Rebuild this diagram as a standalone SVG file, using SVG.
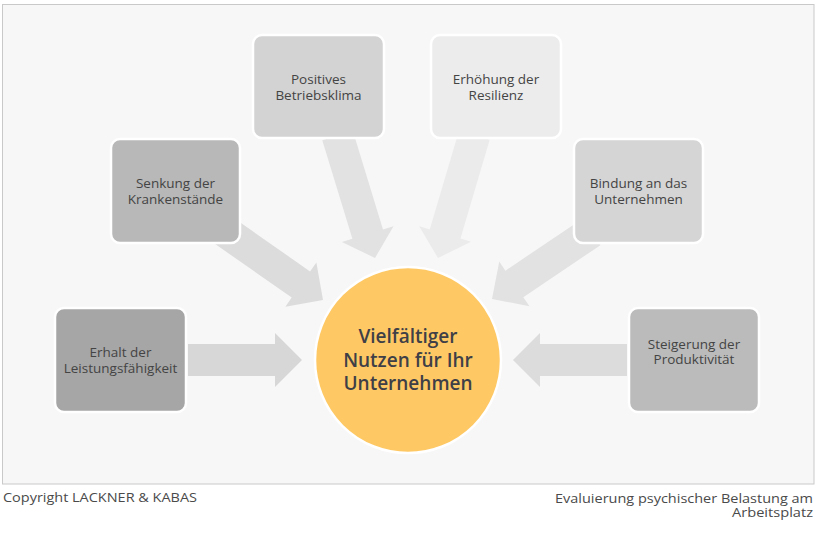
<svg xmlns="http://www.w3.org/2000/svg" width="818" height="535" viewBox="0 0 818 535">
<style>
.lbl{font-family:"Open Sans","Noto Sans","DejaVu Sans",sans-serif;font-size:13.5px;fill:#444;text-anchor:middle}
.box{stroke:#fff;stroke-width:2.5}
.hub{font-family:"Open Sans","Noto Sans","DejaVu Sans",sans-serif;font-size:19px;font-weight:600;fill:#3f3f47;text-anchor:middle}
.foot{font-family:"Open Sans","Noto Sans","DejaVu Sans",sans-serif;font-size:13.5px;fill:#4a4a4a}
</style>
<rect x="0" y="0" width="818" height="535" fill="#ffffff"/>
<rect x="2.5" y="4.5" width="811.5" height="479.5" fill="#f7f7f7" stroke="#c9c9c9" stroke-width="1"/>
<g id="connectors">
<path transform="translate(302,360)" d="M0,0 L-27,-27 L-27,-16 L-114,-16 L-114,16 L-27,16 L-27,27 Z" fill="#d7d7d7"/>
<path transform="translate(513,360) rotate(180)" d="M0,0 L-27,-27 L-27,-16 L-114,-16 L-114,16 L-27,16 L-27,27 Z" fill="#dcdcdc"/>
<path transform="translate(323,300) rotate(35)" d="M0,0 L-27,-27 L-27,-16 L-120,-16 L-120,16 L-27,16 L-27,27 Z" fill="#dcdcdc"/>
<path transform="translate(375,258) rotate(73)" d="M0,0 L-25,-27 L-25,-16 L-128,-16 L-128,16 L-25,16 L-25,27 Z" fill="#e2e2e2"/>
<path transform="translate(438,258) rotate(106.5)" d="M0,0 L-25,-27 L-25,-16 L-128,-16 L-128,16 L-25,16 L-25,27 Z" fill="#ebebeb"/>
<path transform="translate(492,299) rotate(146)" d="M0,0 L-27,-27 L-27,-16 L-120,-16 L-120,16 L-27,16 L-27,27 Z" fill="#e2e2e2"/>
</g>
<g id="node-erhalt">
<rect class="box" x="55" y="308" width="131" height="104" rx="9" fill="#a6a6a6"/>
<text class="lbl" x="120.5" y="357">Erhalt der</text>
<text class="lbl" x="120.5" y="373">Leistungsfähigkeit</text>
</g>
<g id="node-senkung">
<rect class="box" x="111" y="139" width="129" height="104" rx="9" fill="#b8b8b8"/>
<text class="lbl" x="175.5" y="188">Senkung der</text>
<text class="lbl" x="175.5" y="203.5">Krankenstände</text>
</g>
<g id="node-positives">
<rect class="box" x="253" y="35" width="131" height="103" rx="9" fill="#d3d3d3"/>
<text class="lbl" x="318.5" y="84">Positives</text>
<text class="lbl" x="318.5" y="100">Betriebsklima</text>
</g>
<g id="node-erhoehung">
<rect class="box" x="431" y="35" width="130" height="103" rx="9" fill="#ececec"/>
<text class="lbl" x="496" y="84">Erhöhung der</text>
<text class="lbl" x="496" y="100">Resilienz</text>
</g>
<g id="node-bindung">
<rect class="box" x="574" y="139" width="129" height="104" rx="9" fill="#d5d5d5"/>
<text class="lbl" x="638.5" y="188">Bindung an das</text>
<text class="lbl" x="638.5" y="203.5">Unternehmen</text>
</g>
<g id="node-steigerung">
<rect class="box" x="629" y="308" width="130" height="104" rx="9" fill="#bbbbbb"/>
<text class="lbl" x="694" y="348.5">Steigerung der</text>
<text class="lbl" x="694" y="364">Produktivität</text>
</g>
<g id="node-center">
<circle cx="408" cy="360" r="93" fill="#fec964" stroke="#fff" stroke-width="2.5"/>
<text class="hub" x="408" y="343">Vielfältiger</text>
<text class="hub" x="408" y="366.5">Nutzen für Ihr</text>
<text class="hub" x="408" y="389.5">Unternehmen</text>
</g>
<text class="foot" x="3" y="502" textLength="194" lengthAdjust="spacingAndGlyphs">Copyright LACKNER &amp; KABAS</text>
<text class="foot" x="555" y="502.5" textLength="258" lengthAdjust="spacingAndGlyphs">Evaluierung psychischer  Belastung am</text>
<text class="foot" x="732" y="517" textLength="81" lengthAdjust="spacingAndGlyphs">Arbeitsplatz</text>
</svg>
